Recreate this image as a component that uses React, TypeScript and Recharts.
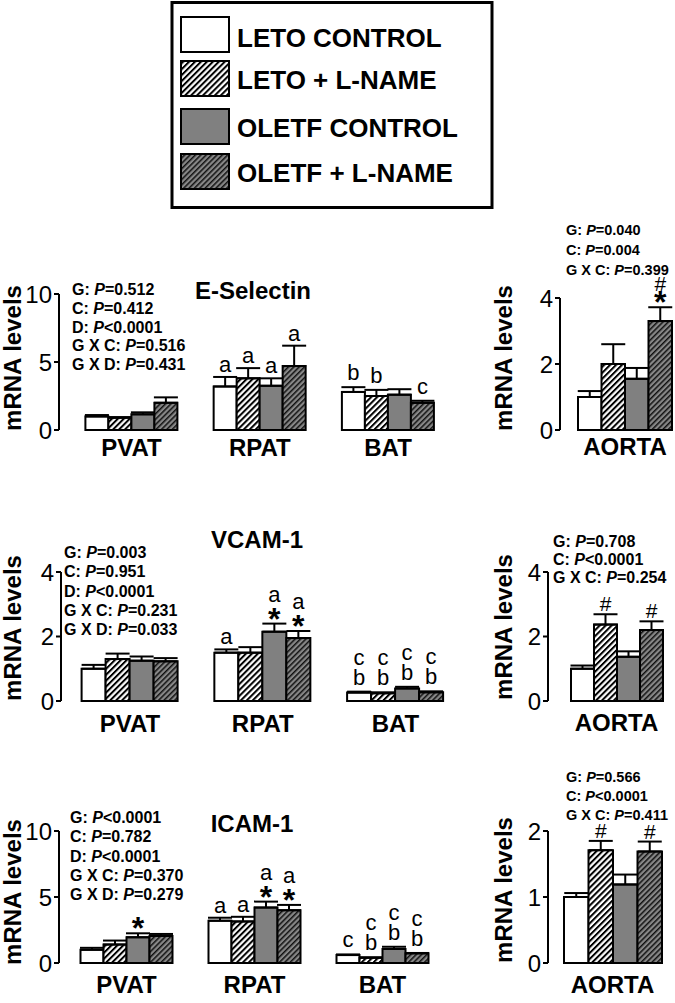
import React from "react";
import { BarChart, Bar, XAxis, YAxis, ErrorBar, LabelList } from "recharts";

const FONT = "Arial, 'Liberation Sans', Helvetica, sans-serif";

const groupNames = ["LETO CONTROL", "LETO + L-NAME", "OLETF CONTROL", "OLETF + L-NAME"];
const seriesKeys = ["letoCtrl", "letoLname", "oletfCtrl", "oletfLname"];
const seriesFills = ["#ffffff", "url(#hatchLight)", "#808080", "url(#hatchDark)"];

const depots = ["PVAT", "RPAT", "BAT"];
const vessel = ["AORTA"];

// E-Selectin
const eselDepotMean = [
  [1.0, 3.2, 2.8],
  [0.9, 3.8, 2.5],
  [1.15, 3.25, 2.6],
  [2.0, 4.7, 2.0],
];
const eselDepotSem = [
  [0.1, 0.7, 0.35],
  [0.05, 0.75, 0.45],
  [0.15, 0.55, 0.4],
  [0.4, 1.5, 0.15],
];
const eselDepotMarks = [
  ["", "a", "b"],
  ["", "a", "b"],
  ["", "a", ""],
  ["", "a", "c"],
];
const eselAortaMean = [[1.0], [2.0], [1.55], [3.3]];
const eselAortaSem = [[0.18], [0.6], [0.33], [0.42]];
const eselAortaMarks = [[""], [""], [""], ["#\n*"]];
const eselDepotTicks = [0, 5, 10];
const eselAortaTicks = [0, 2, 4];
const eselDepotStats = ["G: P=0.512", "C: P=0.412", "D: P<0.0001", "G X C: P=0.516", "G X D: P=0.431"];
const eselAortaStats = ["G: P=0.040", "C: P=0.004", "G X C: P=0.399"];

// VCAM-1
const vcamDepotMean = [
  [1.0, 1.5, 0.26],
  [1.3, 1.5, 0.24],
  [1.25, 2.15, 0.39],
  [1.23, 1.95, 0.27],
];
const vcamDepotSem = [
  [0.12, 0.1, 0.03],
  [0.17, 0.17, 0.03],
  [0.13, 0.25, 0.05],
  [0.1, 0.22, 0.03],
];
const vcamDepotMarks = [
  ["", "a", "c\nb"],
  ["", "", "c\nb"],
  ["", "a\n*", "c\nb"],
  ["", "a\n*", "c\nb"],
];
const vcamAortaMean = [[1.0], [2.37], [1.37], [2.2]];
const vcamAortaSem = [[0.1], [0.32], [0.17], [0.27]];
const vcamAortaMarks = [[""], ["#"], [""], ["#"]];
const vcamDepotTicks = [0, 2, 4];
const vcamAortaTicks = [0, 2, 4];
const vcamDepotStats = ["G: P=0.003", "C: P=0.951", "D: P<0.0001", "G X C: P=0.231", "G X D: P=0.033"];
const vcamAortaStats = ["G: P=0.708", "C: P<0.0001", "G X C: P=0.254"];

// ICAM-1
const icamDepotMean = [
  [1.0, 3.2, 0.6],
  [1.4, 3.15, 0.4],
  [1.95, 4.2, 1.06],
  [2.05, 4.0, 0.73],
];
const icamDepotSem = [
  [0.15, 0.23, 0.05],
  [0.3, 0.35, 0.03],
  [0.3, 0.45, 0.17],
  [0.15, 0.4, 0.03],
];
const icamDepotMarks = [
  ["", "a", "c"],
  ["", "a", "c\nb"],
  ["*", "a\n*", "c\nb"],
  ["", "a\n*", "c\nb"],
];
const icamAortaMean = [[1.0], [1.71], [1.19], [1.69]];
const icamAortaSem = [[0.06], [0.14], [0.15], [0.15]];
const icamAortaMarks = [[""], ["#"], [""], ["#"]];
const icamDepotTicks = [0, 5, 10];
const icamAortaTicks = [0, 1, 2];
const icamDepotStats = ["G: P<0.0001", "C: P=0.782", "D: P<0.0001", "G X C: P=0.370", "G X D: P=0.279"];
const icamAortaStats = ["G: P=0.566", "C: P<0.0001", "G X C: P=0.411"];

type Geo = {
  x0: number; y0: number; w: number; h: number;
  axisX: number; plotTop: number; plotBottom: number; plotRight: number;
  padLeft: number; barSize: number; catBaseline: number; labelX: number; labelY: number;
};

const YAW = 50;
const XAH = 40;

// glyph extents above the baseline, in em (lo = visible bottom, hi = visible top)
const glyphs: Record<string, { fs: number; lo: number; hi: number; gap: number; bold?: boolean }> = {
  a: { fs: 22, lo: 0, hi: 0.53, gap: 5 },
  b: { fs: 22, lo: 0, hi: 0.73, gap: 7 },
  c: { fs: 22, lo: 0, hi: 0.53, gap: 7 },
  "#": { fs: 21, lo: 0, hi: 0.71, gap: 3 },
  "*": { fs: 32, lo: 0.22, hi: 0.66, gap: 1, bold: true },
};

function renderMarks(p: any, marks: string[], errs: number[]) {
  const vb = p.viewBox || {};
  const x = Number(p.x ?? vb.x);
  const y = Number(p.y ?? vb.y);
  const width = Number(p.width ?? vb.width);
  const height = Number(p.height ?? vb.height);
  const i = p.index;
  const value = Number(p.value);
  const m = marks[i];
  if (!m) return null;
  const top = Math.min(y, y + height);
  const errTop = top - (value > 0 ? (Math.abs(height) * errs[i]) / value : 0);
  const cx = x + width / 2;
  const lines = m.split("\n").reverse();
  const out: React.ReactNode[] = [];
  let prevTop = errTop;
  let prev = "";
  lines.forEach((t, j) => {
    const g = glyphs[t];
    let bottom: number;
    if (!prev) bottom = errTop - g.gap;
    else if (prev === "*") bottom = prevTop - (t === "#" ? 1 : 7);
    else bottom = prevTop - 4;
    const base = bottom + g.lo * g.fs;
    out.push(
      <text
        key={j}
        x={cx}
        y={base}
        textAnchor="middle"
        fontSize={g.fs}
        fontWeight={g.bold ? 700 : 400}
        fill="#000"
        fontFamily={FONT}
      >
        {t}
      </text>
    );
    prevTop = base - g.hi * g.fs;
    prev = t;
  });
  return <g>{out}</g>;
}

function Panel({ geo, categories, mean, sem, marks, ticks }: {
  geo: Geo; categories: string[]; mean: number[][]; sem: number[][]; marks: string[][]; ticks: number[];
}) {
  const data = categories.map((name, i) => {
    const row: Record<string, unknown> = { name };
    seriesKeys.forEach((k, s) => {
      row[k] = mean[s][i];
      row[k + "Err"] = [0, sem[s][i]];
    });
    return row;
  });
  const margin = {
    left: geo.axisX - geo.x0 - YAW,
    top: geo.plotTop - geo.y0,
    right: geo.x0 + geo.w - geo.plotRight,
    bottom: geo.y0 + geo.h - geo.plotBottom - XAH,
  };
  const lx = geo.labelX - geo.x0;
  const ly = geo.labelY - geo.y0;
  return (
    <div style={{ position: "absolute", left: geo.x0, top: geo.y0 }}>
      <BarChart width={geo.w} height={geo.h} data={data} margin={margin} barGap={0} barSize={geo.barSize}>
        <XAxis
          dataKey="name"
          axisLine={false}
          tickLine={false}
          tickSize={0}
          tickMargin={geo.catBaseline - geo.plotBottom - 17}
          height={XAH}
          interval={0}
          padding={{ left: geo.padLeft, right: 0 }}
          tick={{ fontSize: 24, fontWeight: 700, fill: "#000", fontFamily: FONT }}
        />
        <YAxis
          domain={[0, ticks[ticks.length - 1]]}
          ticks={ticks}
          width={YAW}
          tickSize={5}
          tickMargin={2}
          axisLine={{ stroke: "#000", strokeWidth: 2 }}
          tickLine={{ stroke: "#000", strokeWidth: 2 }}
          tick={{ fontSize: 24, fill: "#000", fontFamily: FONT }}
          label={{
            content: () => (
              <text
                x={lx}
                y={ly}
                transform={`rotate(-90, ${lx}, ${ly})`}
                textAnchor="middle"
                fontSize={24}
                fontWeight={700}
                fill="#000"
                fontFamily={FONT}
              >
                mRNA levels
              </text>
            ),
          }}
        />
        {seriesKeys.map((k, s) => (
          <Bar
            key={k}
            dataKey={k}
            fill={seriesFills[s]}
            stroke="#000"
            strokeWidth={2}
            barSize={geo.barSize}
            isAnimationActive={false}
          >
            <ErrorBar dataKey={k + "Err"} width={12} stroke="#000" strokeWidth={2} direction="y" isAnimationActive={false} />
            <LabelList dataKey={k} content={(p: any) => renderMarks(p, marks[s], sem[s])} />
          </Bar>
        ))}
      </BarChart>
    </div>
  );
}

function StatLines({ lines, x, y, step, fs }: { lines: string[]; x: number; y: number; step: number; fs: number }) {
  return (
    <g>
      {lines.map((l, i) => {
        const at = l.indexOf("P");
        return (
          <text key={i} x={x} y={y + i * step} fontSize={fs} fontWeight={700} fill="#000" fontFamily={FONT}>
            {l.slice(0, at)}
            <tspan fontStyle="italic">P</tspan>
            {l.slice(at + 1)}
          </text>
        );
      })}
    </g>
  );
}

const legendRows = [17, 61, 109, 154];
const legendBaselines = [47, 89, 137, 182];

export default function App() {
  return (
    <div
      style={{
        position: "absolute",
        left: 0,
        top: 0,
        width: 675,
        height: 1003,
        overflow: "hidden",
        background: "#fff",
        fontFamily: FONT,
      }}
    >
      <Panel
        geo={{ x0: 0, y0: 262, w: 460, h: 210, axisX: 59, plotTop: 294, plotBottom: 430, plotRight: 452.15, padLeft: 8.4, barSize: 23, catBaseline: 456, labelX: 21, labelY: 358 }}
        categories={depots} mean={eselDepotMean} sem={eselDepotSem} marks={eselDepotMarks} ticks={eselDepotTicks}
      />
      <Panel
        geo={{ x0: 480, y0: 262, w: 195, h: 210, axisX: 560, plotTop: 298, plotBottom: 430, plotRight: 674, padLeft: 16, barSize: 23.5, catBaseline: 455, labelX: 512, labelY: 358 }}
        categories={vessel} mean={eselAortaMean} sem={eselAortaSem} marks={eselAortaMarks} ticks={eselAortaTicks}
      />
      <Panel
        geo={{ x0: 0, y0: 530, w: 470, h: 215, axisX: 61, plotTop: 572, plotBottom: 701, plotRight: 461.85, padLeft: 2.6, barSize: 24, catBaseline: 732, labelX: 21, labelY: 628 }}
        categories={depots} mean={vcamDepotMean} sem={vcamDepotSem} marks={vcamDepotMarks} ticks={vcamDepotTicks}
      />
      <Panel
        geo={{ x0: 480, y0: 530, w: 195, h: 215, axisX: 548, plotTop: 572, plotBottom: 701, plotRight: 674, padLeft: 11, barSize: 23, catBaseline: 731, labelX: 512, labelY: 627 }}
        categories={vessel} mean={vcamAortaMean} sem={vcamAortaSem} marks={vcamAortaMarks} ticks={vcamAortaTicks}
      />
      <Panel
        geo={{ x0: 0, y0: 800, w: 460, h: 203, axisX: 59, plotTop: 831, plotBottom: 963, plotRight: 446.5, padLeft: 3.5, barSize: 23, catBaseline: 993, labelX: 21, labelY: 892 }}
        categories={depots} mean={icamDepotMean} sem={icamDepotSem} marks={icamDepotMarks} ticks={icamDepotTicks}
      />
      <Panel
        geo={{ x0: 480, y0: 800, w: 195, h: 203, axisX: 548, plotTop: 831, plotBottom: 963, plotRight: 674, padLeft: 3, barSize: 24.5, catBaseline: 993, labelX: 512, labelY: 890 }}
        categories={vessel} mean={icamAortaMean} sem={icamAortaSem} marks={icamAortaMarks} ticks={icamAortaTicks}
      />

      <svg
        width={675}
        height={1003}
        style={{ position: "absolute", left: 0, top: 0, pointerEvents: "none" }}
        fontFamily={FONT}
      >
        <defs>
          <pattern id="hatchLight" patternUnits="userSpaceOnUse" width={4.2} height={4.2} patternTransform="rotate(45)">
            <rect width={4.2} height={4.2} fill="#fff" />
            <rect width={2} height={4.2} fill="#000" />
          </pattern>
          <pattern id="hatchDark" patternUnits="userSpaceOnUse" width={3.8} height={3.8} patternTransform="rotate(45)">
            <rect width={3.8} height={3.8} fill="#878787" />
            <rect width={1.5} height={3.8} fill="#111" />
          </pattern>
        </defs>

        <rect x={172} y={2.5} width={320} height={205} fill="#fff" stroke="#000" strokeWidth={3} />
        {groupNames.map((g, i) => (
          <g key={g}>
            <rect x={181} y={legendRows[i]} width={48} height={35} fill={seriesFills[i]} stroke="#000" strokeWidth={2} />
            <text x={237} y={legendBaselines[i]} fontSize={26} fontWeight={700} fill="#000">
              {g}
            </text>
          </g>
        ))}

        <text x={253} y={299} textAnchor="middle" fontSize={24} fontWeight={700} fill="#000">E-Selectin</text>
        <text x={257} y={548} textAnchor="middle" fontSize={24} fontWeight={700} fill="#000">VCAM-1</text>
        <text x={252} y={832} textAnchor="middle" fontSize={24} fontWeight={700} fill="#000">ICAM-1</text>

        <StatLines lines={eselDepotStats} x={72} y={295} step={18.75} fs={16} />
        <StatLines lines={eselAortaStats} x={566} y={235} step={20} fs={14.5} />
        <StatLines lines={vcamDepotStats} x={64} y={558} step={19.25} fs={16} />
        <StatLines lines={vcamAortaStats} x={553} y={547} step={18} fs={16} />
        <StatLines lines={icamDepotStats} x={70} y={823} step={19.25} fs={16} />
        <StatLines lines={icamAortaStats} x={566} y={782} step={19} fs={14.5} />
      </svg>
    </div>
  );
}
